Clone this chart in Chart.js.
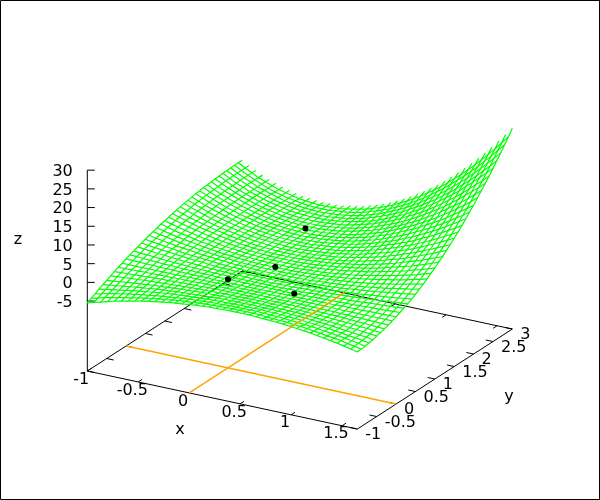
<!DOCTYPE html>
<html>
<head>
<meta charset="utf-8">
<title>Surface</title>
<script src="https://cdn.jsdelivr.net/npm/chart.js@4"></script>
<style>
    body { margin: 0; background: #fff; }
    canvas { display: block; }
</style>
</head>
<body>
<canvas id="surfaceChart" width="600" height="500"></canvas>
<script>
const xValues = [-1,-.934,-.868,-.801,-.735,-.669,-.603,-.536,-.47,-.404,-.338,-.271,-.205,-.139,-.073,-.006,.06,.126,.193,.259,.325,.391,.458,.524,.59,.656,.723,.789,.855,.921,.988,1.054,1.12,1.186,1.253,1.319,1.385,1.451,1.518,1.584,1.65];
const yValues = [-1,-.9,-.8,-.7,-.6,-.5,-.4,-.3,-.2,-.1,0,.1,.2,.3,.4,.5,.6,.7,.8,.9,1,1.1,1.2,1.3,1.4,1.5,1.6,1.7,1.8,1.9,2,2.1,2.2,2.3,2.4,2.5,2.6,2.7,2.8,2.9,3];
// one row per x value, one column per y value
const zRows = [
[-5.5,-4.9,-4.4,-3.8,-3.3,-2.8,-2.3,-1.8,-1.3,-.9,-.4,0,.4,.8,1.2,1.5,1.9,2.2,2.5,2.9,3.1,3.4,3.7,3.9,4.2,4.4,4.6,4.8,5,5.1,5.3,5.4,5.5,5.6,5.7,5.8,5.8,5.9,5.9,5.9,5.9],
[-5,-4.5,-4,-3.5,-3,-2.6,-2.1,-1.7,-1.3,-.9,-.5,-.1,.2,.6,.9,1.2,1.5,1.8,2.1,2.4,2.6,2.9,3.1,3.3,3.5,3.7,3.9,4,4.2,4.3,4.4,4.5,4.6,4.7,4.8,4.8,4.9,4.9,4.9,4.9,4.9],
[-4.5,-4,-3.6,-3.2,-2.8,-2.4,-2,-1.6,-1.2,-.9,-.5,-.2,.1,.4,.7,1,1.2,1.5,1.7,1.9,2.2,2.4,2.6,2.7,2.9,3.1,3.2,3.3,3.5,3.6,3.7,3.7,3.8,3.9,3.9,3.9,4,4,4,4,3.9],
[-4,-3.6,-3.2,-2.9,-2.5,-2.2,-1.8,-1.5,-1.2,-.9,-.6,-.3,0,.2,.5,.7,.9,1.1,1.3,1.5,1.7,1.9,2.1,2.2,2.3,2.5,2.6,2.7,2.8,2.9,3,3,3.1,3.1,3.1,3.2,3.2,3.2,3.2,3.1,3.1],
[-3.5,-3.2,-2.9,-2.6,-2.3,-2,-1.7,-1.4,-1.1,-.9,-.6,-.4,-.2,.1,.3,.5,.6,.8,1,1.2,1.3,1.5,1.6,1.7,1.8,1.9,2,2.1,2.2,2.2,2.3,2.3,2.4,2.4,2.4,2.4,2.4,2.4,2.4,2.4,2.3],
[-3.1,-2.8,-2.5,-2.3,-2,-1.8,-1.5,-1.3,-1.1,-.9,-.7,-.5,-.3,-.1,.1,.2,.4,.5,.7,.8,.9,1.1,1.2,1.3,1.3,1.4,1.5,1.6,1.6,1.7,1.7,1.7,1.8,1.8,1.8,1.8,1.8,1.8,1.7,1.7,1.7],
[-2.7,-2.5,-2.2,-2,-1.8,-1.6,-1.4,-1.2,-1,-.9,-.7,-.5,-.4,-.2,-.1,0,.2,.3,.4,.5,.6,.7,.8,.8,.9,1,1,1.1,1.1,1.1,1.2,1.2,1.2,1.2,1.2,1.2,1.2,1.2,1.1,1.1,1.1],
[-2.3,-2.1,-1.9,-1.8,-1.6,-1.4,-1.3,-1.1,-1,-.9,-.7,-.6,-.5,-.4,-.3,-.2,-.1,0,.1,.2,.3,.3,.4,.5,.5,.6,.6,.6,.7,.7,.7,.7,.7,.7,.7,.7,.7,.7,.6,.6,.6],
[-1.9,-1.8,-1.7,-1.5,-1.4,-1.3,-1.2,-1.1,-1,-.9,-.8,-.7,-.6,-.5,-.4,-.3,-.3,-.2,-.1,-.1,0,0,.1,.1,.2,.2,.2,.2,.3,.3,.3,.3,.3,.3,.3,.3,.3,.2,.2,.2,.1],
[-1.6,-1.5,-1.4,-1.3,-1.2,-1.2,-1.1,-1,-.9,-.9,-.8,-.7,-.7,-.6,-.5,-.5,-.4,-.4,-.4,-.3,-.3,-.2,-.2,-.2,-.2,-.1,-.1,-.1,-.1,-.1,-.1,-.1,-.1,-.1,-.1,-.1,-.1,-.1,-.1,-.2,-.2],
[-1.3,-1.2,-1.2,-1.1,-1.1,-1,-1,-.9,-.9,-.8,-.8,-.8,-.7,-.7,-.7,-.6,-.6,-.6,-.6,-.5,-.5,-.5,-.5,-.4,-.4,-.4,-.4,-.4,-.4,-.4,-.4,-.4,-.4,-.4,-.4,-.4,-.4,-.4,-.4,-.4,-.4],
[-1,-1,-1,-.9,-.9,-.9,-.9,-.9,-.9,-.8,-.8,-.8,-.8,-.8,-.8,-.8,-.7,-.7,-.7,-.7,-.7,-.7,-.7,-.7,-.7,-.7,-.6,-.6,-.6,-.6,-.6,-.6,-.6,-.6,-.6,-.6,-.6,-.6,-.6,-.6,-.6],
[-.7,-.7,-.8,-.8,-.8,-.8,-.8,-.8,-.8,-.8,-.8,-.8,-.9,-.9,-.9,-.9,-.9,-.9,-.9,-.9,-.9,-.9,-.9,-.9,-.8,-.8,-.8,-.8,-.8,-.8,-.8,-.8,-.8,-.8,-.8,-.7,-.7,-.7,-.7,-.7,-.7],
[-.5,-.5,-.6,-.6,-.7,-.7,-.7,-.8,-.8,-.8,-.9,-.9,-.9,-.9,-.9,-1,-1,-1,-1,-1,-1,-1,-1,-1,-1,-1,-1,-1,-1,-.9,-.9,-.9,-.9,-.9,-.8,-.8,-.8,-.8,-.7,-.7,-.6],
[-.3,-.3,-.4,-.5,-.6,-.6,-.7,-.7,-.8,-.8,-.9,-.9,-.9,-1,-1,-1,-1,-1.1,-1.1,-1.1,-1.1,-1.1,-1.1,-1.1,-1.1,-1.1,-1.1,-1.1,-1,-1,-1,-1,-.9,-.9,-.9,-.8,-.8,-.7,-.7,-.6,-.6],
[-.1,-.2,-.3,-.4,-.5,-.5,-.6,-.7,-.7,-.8,-.9,-.9,-1,-1,-1,-1.1,-1.1,-1.1,-1.2,-1.2,-1.2,-1.2,-1.2,-1.2,-1.2,-1.2,-1.1,-1.1,-1.1,-1.1,-1,-1,-.9,-.9,-.8,-.8,-.7,-.6,-.5,-.5,-.4],
[.1,0,-.2,-.3,-.4,-.5,-.6,-.6,-.7,-.8,-.9,-.9,-1,-1,-1.1,-1.1,-1.2,-1.2,-1.2,-1.2,-1.2,-1.2,-1.2,-1.2,-1.2,-1.2,-1.1,-1.1,-1.1,-1,-1,-.9,-.9,-.8,-.7,-.6,-.5,-.4,-.3,-.2,-.1],
[.2,.1,0,-.2,-.3,-.4,-.5,-.6,-.7,-.8,-.9,-.9,-1,-1.1,-1.1,-1.1,-1.2,-1.2,-1.2,-1.2,-1.2,-1.2,-1.2,-1.2,-1.2,-1.2,-1.1,-1.1,-1,-.9,-.9,-.8,-.7,-.6,-.5,-.4,-.3,-.2,-.1,.1,.2],
[.4,.2,0,-.1,-.2,-.4,-.5,-.6,-.7,-.8,-.9,-.9,-1,-1.1,-1.1,-1.2,-1.2,-1.2,-1.2,-1.2,-1.2,-1.2,-1.2,-1.2,-1.1,-1.1,-1,-1,-.9,-.8,-.7,-.6,-.5,-.4,-.3,-.1,0,.1,.3,.5,.6],
[.4,.3,.1,-.1,-.2,-.3,-.5,-.6,-.7,-.8,-.9,-.9,-1,-1.1,-1.1,-1.2,-1.2,-1.2,-1.2,-1.2,-1.2,-1.2,-1.1,-1.1,-1,-1,-.9,-.8,-.7,-.6,-.5,-.4,-.3,-.1,0,.2,.4,.5,.7,.9,1.2],
[.5,.3,.2,0,-.2,-.3,-.4,-.6,-.7,-.8,-.9,-.9,-1,-1.1,-1.1,-1.1,-1.1,-1.2,-1.2,-1.1,-1.1,-1.1,-1,-1,-.9,-.8,-.7,-.6,-.5,-.4,-.3,-.1,.1,.2,.4,.6,.8,1,1.3,1.5,1.7],
[.6,.4,.2,0,-.2,-.3,-.4,-.6,-.7,-.8,-.9,-.9,-1,-1,-1.1,-1.1,-1.1,-1.1,-1.1,-1.1,-1,-1,-.9,-.8,-.7,-.6,-.5,-.4,-.2,-.1,.1,.2,.4,.6,.9,1.1,1.3,1.6,1.8,2.1,2.4],
[.6,.4,.2,0,-.1,-.3,-.4,-.6,-.7,-.8,-.8,-.9,-1,-1,-1,-1,-1,-1,-1,-.9,-.9,-.8,-.7,-.6,-.5,-.4,-.3,-.1,.1,.2,.4,.6,.9,1.1,1.4,1.6,1.9,2.2,2.5,2.8,3.2],
[.6,.4,.2,0,-.2,-.3,-.4,-.6,-.7,-.8,-.8,-.9,-.9,-1,-1,-1,-1,-.9,-.9,-.8,-.7,-.6,-.5,-.4,-.3,-.1,0,.2,.4,.6,.9,1.1,1.4,1.6,1.9,2.2,2.6,2.9,3.2,3.6,4],
[.6,.4,.2,0,-.2,-.3,-.5,-.6,-.7,-.8,-.8,-.9,-.9,-.9,-.9,-.9,-.9,-.8,-.7,-.7,-.6,-.4,-.3,-.2,0,.2,.4,.6,.8,1.1,1.3,1.6,1.9,2.2,2.6,2.9,3.3,3.7,4.1,4.5,4.9],
[.5,.3,.1,-.1,-.2,-.4,-.5,-.6,-.7,-.7,-.8,-.8,-.9,-.8,-.8,-.8,-.7,-.7,-.6,-.5,-.3,-.2,0,.1,.3,.5,.8,1,1.3,1.6,1.9,2.2,2.5,2.9,3.3,3.7,4.1,4.5,4.9,5.4,5.9],
[.4,.2,0,-.1,-.3,-.4,-.5,-.6,-.7,-.7,-.8,-.8,-.8,-.8,-.7,-.7,-.6,-.5,-.4,-.3,-.1,.1,.3,.5,.7,.9,1.2,1.5,1.8,2.1,2.5,2.8,3.2,3.6,4,4.5,4.9,5.4,5.9,6.4,7],
[.3,.1,0,-.2,-.3,-.5,-.6,-.6,-.7,-.7,-.8,-.8,-.7,-.7,-.6,-.6,-.5,-.3,-.2,0,.2,.4,.6,.8,1.1,1.4,1.7,2,2.4,2.7,3.1,3.5,3.9,4.4,4.9,5.3,5.9,6.4,6.9,7.5,8.1],
[.2,0,-.1,-.3,-.4,-.5,-.6,-.7,-.7,-.7,-.7,-.7,-.7,-.6,-.5,-.4,-.3,-.1,0,.2,.5,.7,.9,1.2,1.5,1.9,2.2,2.6,3,3.4,3.8,4.3,4.7,5.2,5.8,6.3,6.9,7.4,8,8.7,9.3],
[.1,-.1,-.3,-.4,-.5,-.6,-.7,-.7,-.7,-.7,-.7,-.7,-.6,-.5,-.4,-.3,-.1,.1,.3,.5,.8,1,1.3,1.7,2,2.4,2.8,3.2,3.6,4.1,4.6,5.1,5.6,6.1,6.7,7.3,7.9,8.6,9.2,9.9,10.6],
[-.1,-.3,-.4,-.5,-.6,-.7,-.7,-.8,-.8,-.7,-.7,-.6,-.5,-.4,-.3,-.1,.1,.3,.6,.8,1.1,1.4,1.8,2.1,2.5,2.9,3.4,3.8,4.3,4.8,5.4,5.9,6.5,7.1,7.7,8.4,9.1,9.8,10.5,11.2,12],
[-.3,-.4,-.6,-.7,-.7,-.8,-.8,-.8,-.8,-.7,-.7,-.6,-.4,-.3,-.1,.1,.3,.6,.9,1.2,1.5,1.8,2.2,2.6,3.1,3.5,4,4.5,5.1,5.6,6.2,6.8,7.4,8.1,8.8,9.5,10.2,11,11.8,12.6,13.5],
[-.5,-.6,-.7,-.8,-.9,-.9,-.9,-.9,-.8,-.8,-.6,-.5,-.4,-.2,0,.3,.5,.8,1.2,1.5,1.9,2.3,2.7,3.2,3.6,4.2,4.7,5.2,5.8,6.5,7.1,7.8,8.5,9.2,9.9,10.7,11.5,12.3,13.2,14.1,15],
[-.7,-.9,-.9,-1,-1,-1,-1,-.9,-.9,-.8,-.6,-.5,-.3,0,.2,.5,.8,1.1,1.5,1.9,2.3,2.8,3.2,3.7,4.3,4.8,5.4,6,6.7,7.4,8.1,8.8,9.5,10.3,11.1,12,12.8,13.7,14.7,15.6,16.6],
[-1,-1.1,-1.2,-1.2,-1.2,-1.2,-1.1,-1,-.9,-.8,-.6,-.4,-.2,.1,.4,.7,1.1,1.4,1.9,2.3,2.8,3.3,3.8,4.3,4.9,5.5,6.2,6.9,7.6,8.3,9.1,9.8,10.7,11.5,12.4,13.3,14.2,15.2,16.2,17.2,18.3],
[-1.3,-1.4,-1.4,-1.4,-1.4,-1.3,-1.2,-1.1,-1,-.8,-.6,-.3,0,.3,.6,1,1.3,1.8,2.2,2.7,3.2,3.8,4.4,5,5.6,6.3,7,7.7,8.5,9.3,10.1,11,11.9,12.8,13.7,14.7,15.7,16.7,17.8,18.9,20],
[-1.6,-1.6,-1.6,-1.6,-1.6,-1.5,-1.3,-1.2,-1,-.8,-.5,-.2,.1,.4,.8,1.2,1.7,2.1,2.6,3.2,3.7,4.3,5,5.7,6.4,7.1,7.8,8.6,9.5,10.3,11.2,12.1,13.1,14.1,15.1,16.2,17.2,18.4,19.5,20.7,21.9],
[-1.9,-1.9,-1.9,-1.9,-1.8,-1.6,-1.5,-1.3,-1.1,-.8,-.5,-.2,.2,.6,1,1.5,2,2.5,3,3.6,4.3,4.9,5.6,6.4,7.1,7.9,8.7,9.6,10.5,11.4,12.4,13.4,14.4,15.5,16.5,17.7,18.8,20,21.3,22.5,23.8],
[-2.3,-2.3,-2.2,-2.1,-2,-1.8,-1.6,-1.4,-1.1,-.8,-.5,-.1,.3,.8,1.2,1.7,2.3,2.9,3.5,4.1,4.8,5.5,6.3,7.1,7.9,8.8,9.7,10.6,11.6,12.6,13.6,14.6,15.7,16.9,18.1,19.3,20.5,21.8,23.1,24.4,25.8],
[-2.7,-2.6,-2.5,-2.4,-2.2,-2,-1.8,-1.5,-1.2,-.8,-.4,0,.4,.9,1.5,2,2.6,3.3,3.9,4.7,5.4,6.2,7,7.9,8.7,9.7,10.6,11.6,12.7,13.7,14.8,16,17.2,18.4,19.6,20.9,22.2,23.6,25,26.4,27.9],
[-3.1,-3,-2.9,-2.7,-2.5,-2.2,-1.9,-1.6,-1.2,-.8,-.4,.1,.6,1.1,1.7,2.3,3,3.7,4.4,5.2,6,6.9,7.7,8.7,9.6,10.6,11.6,12.7,13.8,15,16.1,17.4,18.6,19.9,21.2,22.6,24,25.4,26.9,28.4,30]
];
const sampleX = [0, 0.21, 0, 0.65];
const sampleY = [0, 0.67, 2, 0];
const sampleZ = [0, 0, 0.2, 0];

const xTicks = [-1, -0.5, 0, 0.5, 1, 1.5];
const yTicks = [-1, -0.5, 0, 0.5, 1, 1.5, 2, 2.5, 3];
const zTicks = [-5, 0, 5, 10, 15, 20, 25, 30];

const xMin = -1, xMax = 1.65;
const yMin = -1, yMax = 3;
const zBase = -23.7, zTop = 30;

// fixed view of the box, same idea as gnuplot's "set view"
function project(x, y, z) {
    return {
        x: 87.3 + 101.9 * (x - xMin) + 38.75 * (y - yMin),
        y: 371 + 21.9 * (x - xMin) - 25 * (y - yMin) - 3.74 * (z - zBase)
    };
}

function lineDataset(points, color, width) {
    return {
        data: points,
        showLine: true,
        borderColor: color,
        borderWidth: width,
        pointRadius: 0,
        tension: 0
    };
}

function meshDatasets() {
    const sets = [];
    xValues.forEach((x, i) => {
        sets.push(lineDataset(yValues.map((y, j) => project(x, y, zRows[i][j])), "#00ff00", 1.2));
    });
    // the reference has no cross line along the far edge, the x lines just end there
    yValues.slice(0, -1).forEach((y, j) => {
        sets.push(lineDataset(xValues.map((x, i) => project(x, y, zRows[i][j])), "#00ff00", 1.2));
    });
    return sets;
}

function boxDatasets() {
    const sets = [];
    sets.push(lineDataset([
        project(xMin, yMin, zBase), project(xMax, yMin, zBase), project(xMax, yMax, zBase),
        project(xMin, yMax, zBase), project(xMin, yMin, zBase)
    ], "#000", 1));
    sets.push(lineDataset([project(xMin, yMin, zBase), project(xMin, yMin, zTop)], "#000", 1));
    const xTickLen = 0.1, yTickLen = 0.07;
    xTicks.forEach(v => {
        sets.push(lineDataset([project(v, yMin, zBase), project(v, yMin + xTickLen, zBase)], "#000", 1));
        sets.push(lineDataset([project(v, yMax, zBase), project(v, yMax - xTickLen, zBase)], "#000", 1));
    });
    yTicks.forEach(v => {
        sets.push(lineDataset([project(xMin, v, zBase), project(xMin + yTickLen, v, zBase)], "#000", 1));
        sets.push(lineDataset([project(xMax, v, zBase), project(xMax - yTickLen, v, zBase)], "#000", 1));
    });
    zTicks.forEach(v => {
        const p = project(xMin, yMin, v);
        sets.push(lineDataset([p, { x: p.x + 7.5, y: p.y }], "#000", 1));
    });
    // outer frame of the picture
    sets.push(lineDataset([
        { x: 0.5, y: 0.5 }, { x: 599.5, y: 0.5 }, { x: 599.5, y: 499.5 }, { x: 0.5, y: 499.5 }, { x: 0.5, y: 0.5 }
    ], "#000", 1));
    return sets;
}

function zeroAxisDatasets() {
    return [
        lineDataset([project(xMin, 0, zBase), project(xMax, 0, zBase)], "#ffa500", 1.5),
        lineDataset([project(0, yMin, zBase), project(0, yMax, zBase)], "#ffa500", 1.5)
    ];
}

const sampleDataset = {
    data: sampleX.map((x, i) => project(x, sampleY[i], sampleZ[i])),
    showLine: false,
    pointRadius: 3,
    pointBackgroundColor: "#000",
    pointBorderColor: "#000",
    pointBorderWidth: 0
};

const axisLabels = {
    id: "axisLabels",
    afterDatasetsDraw(chart) {
        const ctx = chart.ctx;
        const sx = chart.scales.x, sy = chart.scales.y;
        const put = (text, x, y, align) => {
            ctx.textAlign = align;
            ctx.fillText(text, sx.getPixelForValue(x), sy.getPixelForValue(y + 1));
        };
        ctx.save();
        ctx.font = "16px 'DejaVu Sans'";
        ctx.fillStyle = "#000";
        ctx.textBaseline = "middle";
        xTicks.forEach(v => {
            const p = project(v, yMin, zBase);
            put(String(v), p.x - 6, p.y + 7.5, "center");
        });
        yTicks.forEach(v => {
            const p = project(xMax, v, zBase);
            put(String(v), p.x + 8, p.y + 5, "left");
        });
        zTicks.forEach(v => {
            const p = project(xMin, yMin, v);
            put(String(v), p.x - 14.5, p.y + 0.7, "right");
        });
        put("x", 180, 429, "center");
        put("y", 509, 396, "center");
        put("z", 18, 239, "center");
        ctx.restore();
    }
};

new Chart(document.getElementById("surfaceChart"), {
    type: "scatter",
    data: {
        // first dataset ends up on top
        datasets: [sampleDataset, ...zeroAxisDatasets(), ...meshDatasets(), ...boxDatasets()]
    },
    options: {
        responsive: false,
        animation: false,
        devicePixelRatio: 1,
        layout: { padding: 0, autoPadding: false },
        plugins: { legend: { display: false }, tooltip: { enabled: false } },
        scales: {
            x: { type: "linear", min: 0, max: 600, display: false },
            y: { type: "linear", min: 0, max: 500, reverse: true, display: false }
        }
    },
    plugins: [axisLabels]
});
</script>
</body>
</html>
